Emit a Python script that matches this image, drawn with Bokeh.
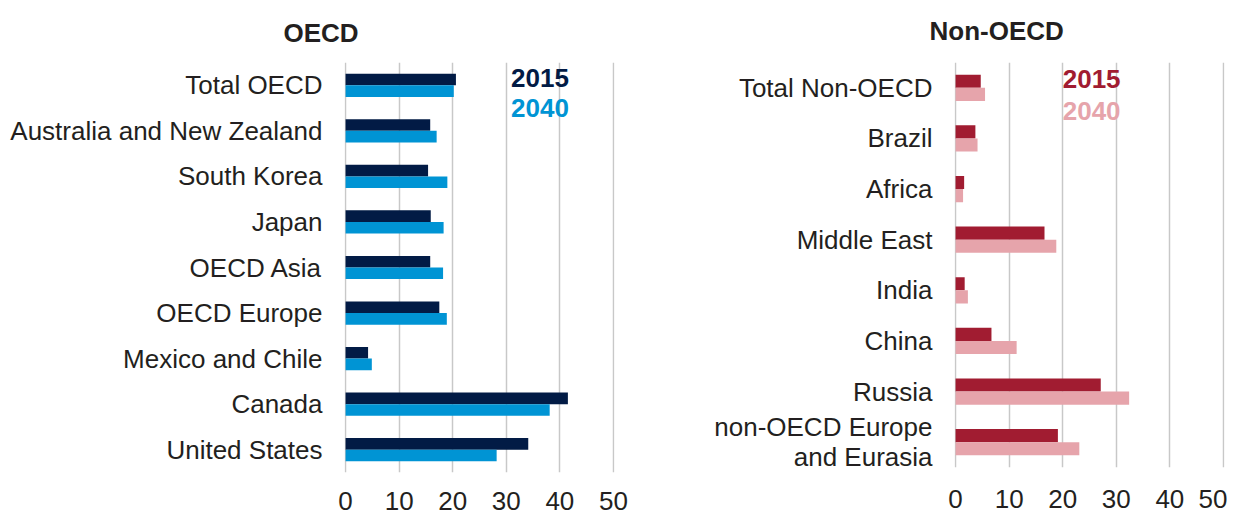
from bokeh.plotting import figure
from bokeh.models import FactorRange, Range1d, ColumnDataSource, FixedTicker
from bokeh.layouts import row
from bokeh.transform import dodge
from bokeh.core.properties import value
from bokeh.embed import file_html
from bokeh.resources import INLINE

# ---- data ----
oecd_regions = ["Total OECD", "Australia and New Zealand", "South Korea", "Japan",
                "OECD Asia", "OECD Europe", "Mexico and Chile", "Canada", "United States"]
oecd_2015 = [20.6, 15.8, 15.4, 15.9, 15.8, 17.5, 4.2, 41.5, 34.1]
oecd_2040 = [20.2, 17.0, 19.0, 18.3, 18.2, 18.9, 4.9, 38.1, 28.2]

non_regions = ["Total Non-OECD", "Brazil", "Africa", "Middle East", "India", "China",
               "Russia", "non-OECD Europe\nand Eurasia"]
non_2015 = [4.7, 3.7, 1.6, 16.6, 1.7, 6.7, 27.1, 19.1]
non_2040 = [5.5, 4.1, 1.4, 18.8, 2.3, 11.4, 32.4, 23.1]

years = ["2015", "2040"]
x_ticks = [0, 10, 20, 30, 40, 50]

FONT = "Liberation Sans"
TEXT_COLOR = "#231f20"


def make_panel(title, regions, v1, v2, c1, c2, frame_h, border_l, border_r,
               border_b, title_offset, title_valign, xlab_standoff, leg_x,
               leg_off1, leg_off2, bar_h):
    p = figure(y_range=FactorRange(factors=list(reversed(regions))),
               x_range=Range1d(-0.2, 50.2),
               frame_width=270, frame_height=frame_h,
               min_border_left=border_l, min_border_right=border_r,
               min_border_top=62, min_border_bottom=border_b,
               output_backend="svg", toolbar_location=None, title=title)
    src = ColumnDataSource(dict(region=regions, v1=v1, v2=v2))
    off = bar_h / 2
    p.hbar(y=dodge("region", off, range=p.y_range), left=0, right="v1", height=bar_h,
           fill_color=c1, line_color=None, source=src)
    p.hbar(y=dodge("region", -off, range=p.y_range), left=0, right="v2", height=bar_h,
           fill_color=c2, line_color=None, source=src)

    # in-plot legend text
    s1 = ColumnDataSource(dict(x=[leg_x], y=[regions[0]], t=[years[0]]))
    s2 = ColumnDataSource(dict(x=[leg_x], y=[regions[0]], t=[years[1]]))
    p.text(x="x", y=dodge("y", leg_off1, range=p.y_range), text="t", source=s1,
           text_color=c1, text_font=value(FONT), text_font_size="26px",
           text_font_style="bold", text_baseline="middle", text_align="left")
    p.text(x="x", y=dodge("y", leg_off2, range=p.y_range), text="t", source=s2,
           text_color=c2, text_font=value(FONT), text_font_size="26px",
           text_font_style="bold", text_baseline="middle", text_align="left")

    p.title.text_font = FONT
    p.title.text_font_size = "26px"
    p.title.text_font_style = "bold"
    p.title.text_color = TEXT_COLOR
    p.title.align = "left"
    p.title.offset = title_offset
    p.title.standoff = 29
    p.title.vertical_align = title_valign

    p.xaxis.ticker = FixedTicker(ticks=x_ticks)
    p.xgrid.ticker = FixedTicker(ticks=x_ticks)
    p.xgrid.grid_line_color = "#c8c8c8"
    p.xgrid.grid_line_width = 1.5
    p.ygrid.visible = False
    for ax in (p.xaxis, p.yaxis):
        ax.axis_line_color = None
        ax.major_tick_line_color = None
        ax.minor_tick_line_color = None
        ax.major_label_text_font = FONT
        ax.major_label_text_font_size = "26px"
        ax.major_label_text_color = TEXT_COLOR
    p.xaxis.major_label_standoff = xlab_standoff
    p.yaxis.major_label_standoff = 16
    p.yaxis.major_label_text_line_height = 1.0
    p.outline_line_color = None
    p.background_fill_color = "white"
    p.border_fill_color = "white"
    return p


p1 = make_panel("OECD", oecd_regions, oecd_2015, oecd_2040, "#021b45", "#0094d4",
                410, 344, 15, 45, -61, "bottom", 13, 30.9, 0.17, -0.49, 0.255)
p2 = make_panel("Non-OECD", non_regions, non_2015, non_2040, "#a11c31", "#e6a4ab",
                405, 325, 3, 50, -25, "top", 16, 20.0, 0.18, -0.45, 0.26)

layout = row(p1, p2)
open("out.html", "w").write(file_html(layout, INLINE))
